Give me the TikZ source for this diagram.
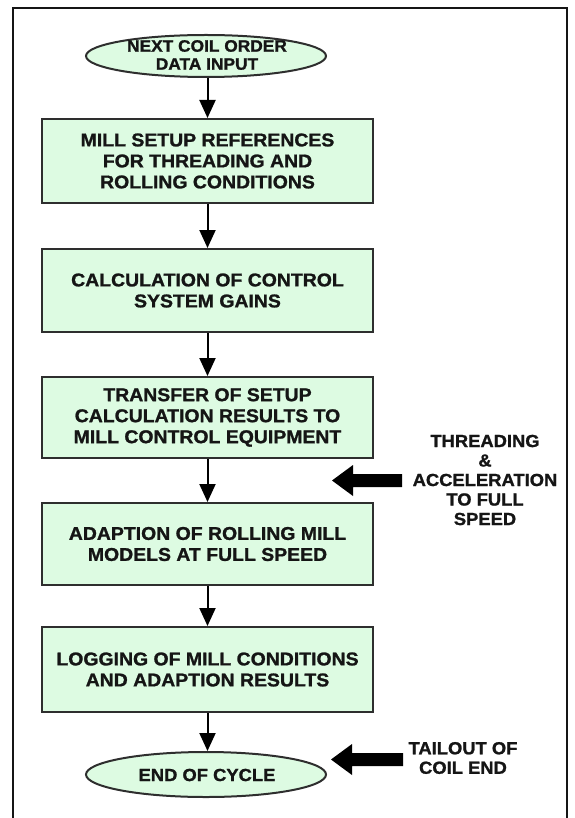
\documentclass[tikz,border=0pt]{standalone}
\usepackage{fontspec}
\setmainfont{Liberation Sans}[FakeStretch=1.05, BoldFeatures={FakeBold=1.2}]
\usetikzlibrary{arrows.meta,shapes.geometric}
\definecolor{mint}{HTML}{DDFBE2}
\definecolor{edge}{HTML}{2E2E2E}
\definecolor{ink}{HTML}{151515}
\tikzset{
  procbox/.style={draw=edge, line width=2pt, fill=mint, minimum width=331pt, inner sep=0pt,
    text=ink, align=center, font=\fontsize{18.5}{21}\selectfont\bfseries},
  termshape/.style={draw=edge, line width=2pt, fill=mint, ellipse, minimum width=240pt, inner sep=0pt},
  termtext/.style={text=ink, align=center, inner sep=0pt, font=\fontsize{16.5}{18}\selectfont\bfseries},
  sidetext/.style={text=ink, align=center, inner sep=0pt, font=\fontsize{17.5}{19.5}\selectfont\bfseries},
  flow/.style={draw=black, line width=2pt, -{Triangle[width=16pt,length=18pt]}},
  bigarrow/.style={fill=black, draw=none}
}
\begin{document}
\begin{tikzpicture}[x=1pt,y=-1pt]
\useasboundingbox (0,0) rectangle (574,818);
% outer frame (open at the bottom)
\draw[draw=ink, line width=2.5pt] (13,818) -- (13,8) -- (567,8) -- (567,818);

% terminals
\node[termshape, minimum height=42pt] (start) at (206,56) {};
\node[termtext] (starttxt) at (207,55) {NEXT COIL ORDER\\DATA INPUT};

\node[procbox, minimum height=84pt] (b1) at (207.5,161) {MILL SETUP REFERENCES\\FOR THREADING AND\\ROLLING CONDITIONS};
\node[procbox, minimum height=83pt] (b2) at (207.5,290.5) {CALCULATION OF CONTROL\\SYSTEM GAINS};
\node[procbox, minimum height=81pt] (b3) at (207.5,417.5) {TRANSFER OF SETUP\\CALCULATION RESULTS TO\\MILL CONTROL EQUIPMENT};
\node[procbox, minimum height=82pt] (b4) at (207.5,544) {ADAPTION OF ROLLING MILL\\MODELS AT FULL SPEED};
\node[procbox, minimum height=85pt] (b5) at (207.5,669.5) {LOGGING OF MILL CONDITIONS\\AND ADAPTION RESULTS};

\node[termshape, minimum height=45pt] (end) at (206,774.5) {};
\node[termtext, font=\fontsize{17.5}{19}\selectfont\bfseries] (endtxt) at (207,775) {END OF CYCLE};

% flow connectors
\draw[flow] (start.south -| b1.north) -- (b1.north);
\draw[flow] (b1.south) -- (b2.north);
\draw[flow] (b2.south) -- (b3.north);
\draw[flow] (b3.south) -- (b4.north);
\draw[flow] (b4.south) -- (b5.north);
\draw[flow] (b5.south) -- (end.north -| b5.south);

% side notes with heavy arrows
\node[sidetext] (thr) at (485,480) {THREADING\\\&\\ACCELERATION\\TO FULL\\SPEED};
\coordinate (thrtip) at (332,480.5);
\fill[bigarrow] (thrtip) -- ++(21,-15.5) -- ++(0,9) -- ++(49,0) -- ++(0,13) -- ++(-49,0) -- ++(0,9) -- cycle;

\node[sidetext] (tail) at (463,758) {TAILOUT OF\\COIL END};
\coordinate (tailtip) at (331,759.5);
\fill[bigarrow] (tailtip) -- ++(21,-15.5) -- ++(0,9) -- ++(51,0) -- ++(0,13) -- ++(-51,0) -- ++(0,9) -- cycle;
\end{tikzpicture}
\end{document}
